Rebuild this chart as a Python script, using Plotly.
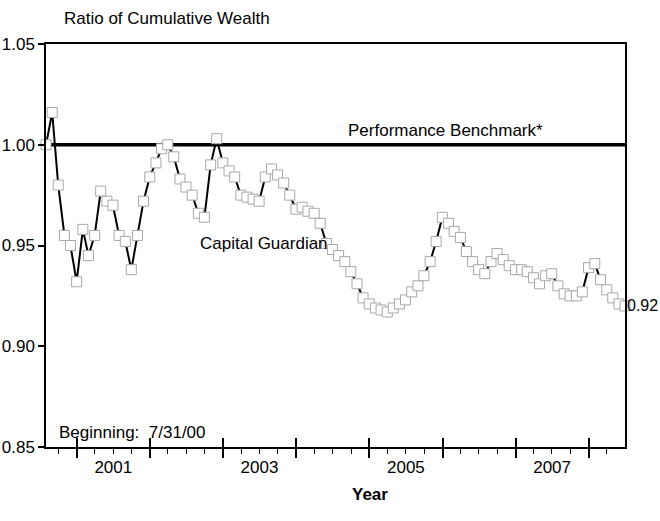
import pandas as pd
import plotly.graph_objects as go

# ---- data (monthly, 7/31/00 .. 6/30/08) ----
start_date = "2000-07-31"
capital_guardian = [
    1.000, 1.016, 0.980, 0.955, 0.950, 0.932, 0.958, 0.945, 0.955, 0.977,
    0.972, 0.970, 0.955, 0.952, 0.938, 0.955, 0.972, 0.984, 0.991, 0.998,
    1.000, 0.994, 0.983, 0.979, 0.975, 0.966, 0.964, 0.990, 1.003, 0.991,
    0.987, 0.984, 0.975, 0.974, 0.973, 0.972, 0.984, 0.988, 0.985, 0.981,
    0.975, 0.968, 0.969, 0.967, 0.966, 0.961, 0.951, 0.948, 0.945, 0.942,
    0.937, 0.931, 0.924, 0.921, 0.919, 0.918, 0.917, 0.919, 0.921, 0.923,
    0.927, 0.930, 0.935, 0.942, 0.952, 0.964, 0.961, 0.957, 0.954, 0.947,
    0.942, 0.938, 0.936, 0.942, 0.946, 0.943, 0.940, 0.938, 0.938, 0.937,
    0.934, 0.931, 0.935, 0.936, 0.930, 0.926, 0.925, 0.925, 0.927, 0.939,
    0.941, 0.933, 0.928, 0.924, 0.921, 0.920,
]
benchmark = 1.00
y_ticks = [0.85, 0.90, 0.95, 1.00, 1.05]
year_starts = [f"{y}-01-01" for y in range(2001, 2009)]
label_years = ["2001", "2003", "2005", "2007"]

dates = pd.date_range(start_date, periods=len(capital_guardian), freq="ME")
x_range = [dates[0], dates[-1]]
label_pos = [pd.Timestamp(f"{y}-07-02") for y in label_years]

FONT = "Liberation Sans, Arial, sans-serif"

fig = go.Figure()
fig.add_trace(go.Scatter(
    x=dates, y=capital_guardian, mode="lines+markers",
    line=dict(color="black", width=2),
    marker=dict(symbol="square", size=10, color="white",
                line=dict(color="#a8a8a8", width=1)),
    showlegend=False, cliponaxis=False,
))
# helper traces so overlay axes are drawn
fig.add_trace(go.Scatter(x=[dates[0]], y=[benchmark], xaxis="x2", mode="markers",
                         marker=dict(opacity=0), showlegend=False, hoverinfo="skip"))
fig.add_trace(go.Scatter(x=[dates[0]], y=[benchmark], xaxis="x3", mode="markers",
                         marker=dict(opacity=0), showlegend=False, hoverinfo="skip"))

fig.add_hline(y=benchmark, line=dict(color="black", width=3.5), layer="below")

fig.update_layout(
    width=660, height=521,
    margin=dict(l=46, r=35, t=44, b=74, autoexpand=False),
    paper_bgcolor="white", plot_bgcolor="white",
    font=dict(family=FONT, size=17, color="black"),
    xaxis=dict(
        range=x_range, type="date", automargin=False,
        tickmode="array", tickvals=year_starts, ticktext=[""] * len(year_starts),
        ticks="outside", ticklen=9, tickwidth=1.5, tickcolor="black",
        minor=dict(dtick="M3", tick0="2001-01-01", ticks="outside", ticklen=5,
                   tickwidth=1, tickcolor="black"),
        showline=True, linecolor="black", linewidth=1.5, mirror=True,
        showgrid=False, zeroline=False,
    ),
    xaxis2=dict(
        range=x_range, type="date", overlaying="x", anchor="y", side="bottom",
        automargin=False,
        tickmode="array", tickvals=year_starts, showticklabels=False,
        ticks="inside", ticklen=9, tickwidth=1.5, tickcolor="black",
        showline=False, showgrid=False, zeroline=False,
    ),
    xaxis3=dict(
        range=x_range, type="date", overlaying="x", anchor="y", side="bottom",
        automargin=False,
        tickmode="array", tickvals=label_pos, ticktext=label_years,
        ticks="", ticklabelstandoff=8,
        tickfont=dict(family=FONT, size=17, color="black"),
        showline=False, showgrid=False, zeroline=False,
    ),
    yaxis=dict(
        range=[y_ticks[0], y_ticks[-1]], automargin=False,
        tickmode="array", tickvals=y_ticks, ticktext=[f"{v:.2f}" for v in y_ticks],
        ticks="outside", ticklen=6, tickwidth=1.5, tickcolor="black",
        tickfont=dict(family=FONT, size=17, color="black"),
        showline=True, linecolor="black", linewidth=1.5, mirror=True,
        showgrid=False, zeroline=False,
    ),
)

fig.add_annotation(text="Ratio of Cumulative Wealth", xref="paper", yref="paper",
                   x=0.028, y=1, xanchor="left", yanchor="bottom", yshift=14,
                   showarrow=False, font=dict(size=17))
fig.add_annotation(text="Performance Benchmark*", xref="paper", yref="y",
                   x=0.69, y=benchmark, xanchor="center", yanchor="bottom", yshift=3,
                   showarrow=False, font=dict(size=17))
fig.add_annotation(text="Capital Guardian", xref="paper", yref="y",
                   x=0.377, y=0.951, xanchor="center", yanchor="middle",
                   showarrow=False, font=dict(size=17))
fig.add_annotation(text="Beginning:  7/31/00", xref="paper", yref="paper",
                   x=0.019, y=0, xanchor="left", yanchor="bottom", yshift=3,
                   showarrow=False, font=dict(size=17))
fig.add_annotation(text=f"{capital_guardian[-1]:.2f}", xref="x", yref="y",
                   x=dates[-1], y=capital_guardian[-1], xanchor="left", yanchor="middle",
                   xshift=0, showarrow=False, font=dict(size=16))
fig.add_annotation(text="<b>Year</b>", xref="paper", yref="paper",
                   x=0.56, y=0, xanchor="center", yanchor="top", yshift=-36,
                   showarrow=False, font=dict(size=17))

fig.write_html(
    "out.html",
    config={"displayModeBar": False},
    post_script="document.body.style.margin='0';document.body.style.overflow='hidden';",
)
